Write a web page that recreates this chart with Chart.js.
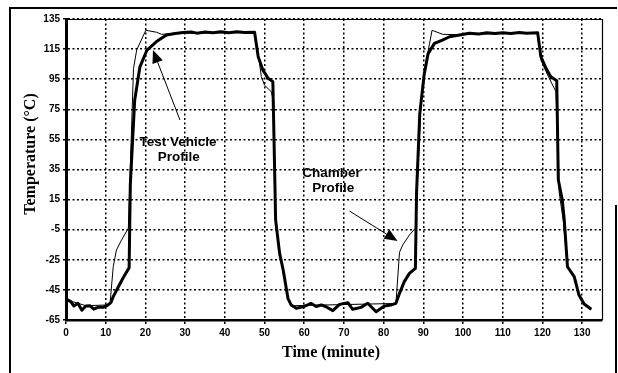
<!DOCTYPE html>
<html>
<head>
<meta charset="utf-8">
<script src="https://cdn.jsdelivr.net/npm/chart.js@4.4.0/dist/chart.umd.min.js"></script>
<style>
  html, body { margin: 0; padding: 0; background: #fff; }
  #wrap { width: 618px; height: 373px; }
</style>
</head>
<body>
<div id="wrap"><canvas id="grafico" width="618" height="373"></canvas></div>
<script>
// test vehicle profile (thick line)
const vehicleTime = [0, 1.2, 2, 3, 4, 5, 6, 7, 8, 9.5, 10.6, 11.3, 11.9, 13.2, 14.4, 15.9, 16.2, 17.3, 18.6, 20.4, 22.8, 25.3, 27.5, 29.5, 31.5, 33, 35, 37, 39, 41, 43, 45, 47.5, 48.4, 49.6, 50.9, 52.1, 52.8, 53.8, 54.7, 55.9, 56.7, 58, 59.7, 60.9, 61.7, 63, 64.3, 65.5, 67.2, 68.9, 71, 72.2, 74.3, 76, 78.1, 80.2, 81.9, 83.1, 84, 85.2, 86.5, 88, 88.3, 89.1, 90.2, 91.2, 92.8, 94.8, 96.6, 99.1, 101.6, 104, 106, 108, 110, 112, 114.2, 116, 118.8, 119.6, 120.9, 122.1, 123.6, 124, 125, 125.5, 126.3, 128, 129.2, 130.5, 132.3];
const vehicleTemp = [-51, -52.8, -55.7, -53.9, -58.5, -55.7, -55.5, -57.8, -56.6, -56.5, -55, -53.5, -49.5, -42.9, -36.9, -30.3, 25, 81, 103, 114.4, 120, 124.4, 125.3, 126, 126.4, 125.6, 126.3, 125.8, 126.5, 125.9, 126.6, 126, 126.2, 110, 101, 95.6, 93.4, 1.4, -20.7, -31.8, -50.6, -55, -57.2, -56.2, -55, -53.9, -56, -55, -56.2, -58.8, -54.6, -53.5, -57.9, -56.6, -53.9, -59.5, -55.7, -55, -53.9, -47.3, -39.5, -34, -30.7, 20, 72, 98, 112, 118.8, 121, 123.2, 124.4, 125.5, 125.1, 125.8, 125.3, 125.9, 125.4, 126, 125.5, 125.8, 110, 102.2, 96.7, 94, 28, 14.7, 1.4, -29.6, -36.2, -48.4, -54.4, -57.9];

// chamber profile (thin line)
const chamberTime = [0, 5, 10.6, 11.1, 11.9, 12.7, 14, 15.7, 17, 17.8, 20.1, 22.8, 24.1, 27, 47.5, 48.5, 49.2, 50, 51.7, 52.3, 52.8, 53.8, 54.7, 55.9, 57, 83.1, 83.6, 84, 84.8, 86.5, 88, 89.4, 90.3, 91.1, 92.2, 94.9, 98.2, 118.8, 119.6, 121.3, 123.4, 123.8, 124.2, 125.3, 126.3, 128, 129.2, 130.5, 132.3];
const chamberTemp = [-51.5, -55.5, -55, -54, -29.6, -18.5, -11.8, -4, 102, 114.4, 127.5, 126.2, 124.8, 125.5, 126, 110, 96.7, 91, 86.7, 80, 1, -21, -32, -50.6, -55.5, -54, -35, -20, -15.2, -8.5, -4, 79, 98.9, 112.2, 127.5, 124.8, 124.6, 125.8, 107.8, 97.8, 86.7, 60, 20, 0, -29.6, -36.2, -48.4, -54.4, -57.9];

const xTickValues = [0, 10, 20, 30, 40, 50, 60, 70, 80, 90, 100, 110, 120, 130];
const yTickValues = [-65, -45, -25, -5, 15, 35, 55, 75, 95, 115, 135];

const xTitle = 'Time (minute)';
const yTitle = 'Temperature (°C)';

// annotation text, anchor [time, temp]
const noteLines = [['Test Vehicle', 28.2, 53.3], ['Profile', 28.4, 43.3], ['Chamber', 66.9, 32.7], ['Profile', 67.3, 22.7]];
// arrows: tail time, tail temp, head time, head temp
const noteArrows = [[28.7, 67.9, 21.9, 114.4], [71.4, 7.4, 83.5, -12.5]];

function toPoints(ts, vs) {
    return ts.map((t, i) => ({ x: t, y: vs[i] }));
}

const sansBold = { family: '"Liberation Sans", Arial, sans-serif', size: 10, weight: 'bold' };

const extras = {
    id: 'extras',
    afterDraw(chart) {
        const ctx = chart.ctx, a = chart.chartArea;
        const x = chart.scales.x, y = chart.scales.y;
        ctx.save();
        ctx.strokeStyle = '#000';
        ctx.fillStyle = '#000';

        // plot frame top and right
        ctx.lineWidth = 1.2;
        ctx.beginPath();
        ctx.moveTo(a.left, a.top + 0.5);
        ctx.lineTo(a.right + 1, a.top + 0.5);
        ctx.moveTo(a.right + 0.5, a.top);
        ctx.lineTo(a.right + 0.5, a.bottom);
        ctx.stroke();

        // outer frame
        ctx.lineWidth = 2;
        ctx.beginPath();
        ctx.moveTo(10, 373);
        ctx.lineTo(10, 8);
        ctx.lineTo(617, 8);
        ctx.moveTo(616, 205);
        ctx.lineTo(616, 373);
        ctx.stroke();

        // axis titles
        ctx.font = 'bold 16px "Liberation Serif", "Times New Roman", serif';
        ctx.textAlign = 'center';
        ctx.textBaseline = 'middle';
        ctx.fillText(xTitle, 331, 353);
        ctx.save();
        ctx.translate(31, 154);
        ctx.rotate(-Math.PI / 2);
        ctx.fillText(yTitle, 0, 0);
        ctx.restore();

        // annotations
        ctx.font = 'bold 13.5px "Liberation Sans", Arial, sans-serif';
        noteLines.forEach(n => {
            ctx.fillText(n[0], x.getPixelForValue(n[1]), y.getPixelForValue(n[2]));
        });
        noteArrows.forEach(r => {
            const x1 = x.getPixelForValue(r[0]), y1 = y.getPixelForValue(r[1]);
            const x2 = x.getPixelForValue(r[2]), y2 = y.getPixelForValue(r[3]);
            const ang = Math.atan2(y2 - y1, x2 - x1);
            const len = 13, half = 5.5;
            const bx = x2 - len * Math.cos(ang), by = y2 - len * Math.sin(ang);
            ctx.lineWidth = 1;
            ctx.beginPath();
            ctx.moveTo(x1, y1);
            ctx.lineTo(bx, by);
            ctx.stroke();
            ctx.beginPath();
            ctx.moveTo(x2, y2);
            ctx.lineTo(bx + half * Math.sin(ang), by - half * Math.cos(ang));
            ctx.lineTo(bx - half * Math.sin(ang), by + half * Math.cos(ang));
            ctx.closePath();
            ctx.fill();
        });
        ctx.restore();
    }
};

var ctx = document.getElementById('grafico').getContext('2d');

var grafico = new Chart(ctx, {
    type: 'line',
    data: {
        datasets: [{
            label: 'Test Vehicle Profile',
            data: toPoints(vehicleTime, vehicleTemp),
            borderColor: '#000',
            borderWidth: 3,
            pointRadius: 0,
            tension: 0,
            borderJoinStyle: 'round'
        }, {
            label: 'Chamber Profile',
            data: toPoints(chamberTime, chamberTemp),
            borderColor: '#000',
            borderWidth: 1,
            pointRadius: 0,
            tension: 0
        }]
    },
    options: {
        responsive: false,
        animation: false,
        devicePixelRatio: 1,
        layout: { padding: { top: 19, right: 16, left: 0, bottom: 0 } },
        plugins: {
            legend: { display: false },
            tooltip: { enabled: false }
        },
        scales: {
            x: {
                type: 'linear',
                min: 0,
                max: 135,
                afterBuildTicks: s => { s.ticks = xTickValues.map(v => ({ value: v })); },
                afterFit: s => { s.height = 53; },
                ticks: { color: '#000', font: sansBold, padding: 3, maxRotation: 0 },
                grid: { color: '#000', lineWidth: 1.5, tickLength: 4, tickColor: '#000' },
                border: { color: '#000', width: 2.5, dash: [2, 2.5] }
            },
            y: {
                min: -65,
                max: 135,
                afterBuildTicks: s => { s.ticks = yTickValues.map(v => ({ value: v })); },
                afterFit: s => { s.width = 66; },
                ticks: { color: '#000', font: sansBold, padding: 3 },
                grid: { color: '#000', lineWidth: 1.5, tickLength: 3, tickColor: '#000' },
                border: { color: '#000', width: 3, dash: [2, 2.5] }
            }
        }
    },
    plugins: [extras]
});
</script>
</body>
</html>
